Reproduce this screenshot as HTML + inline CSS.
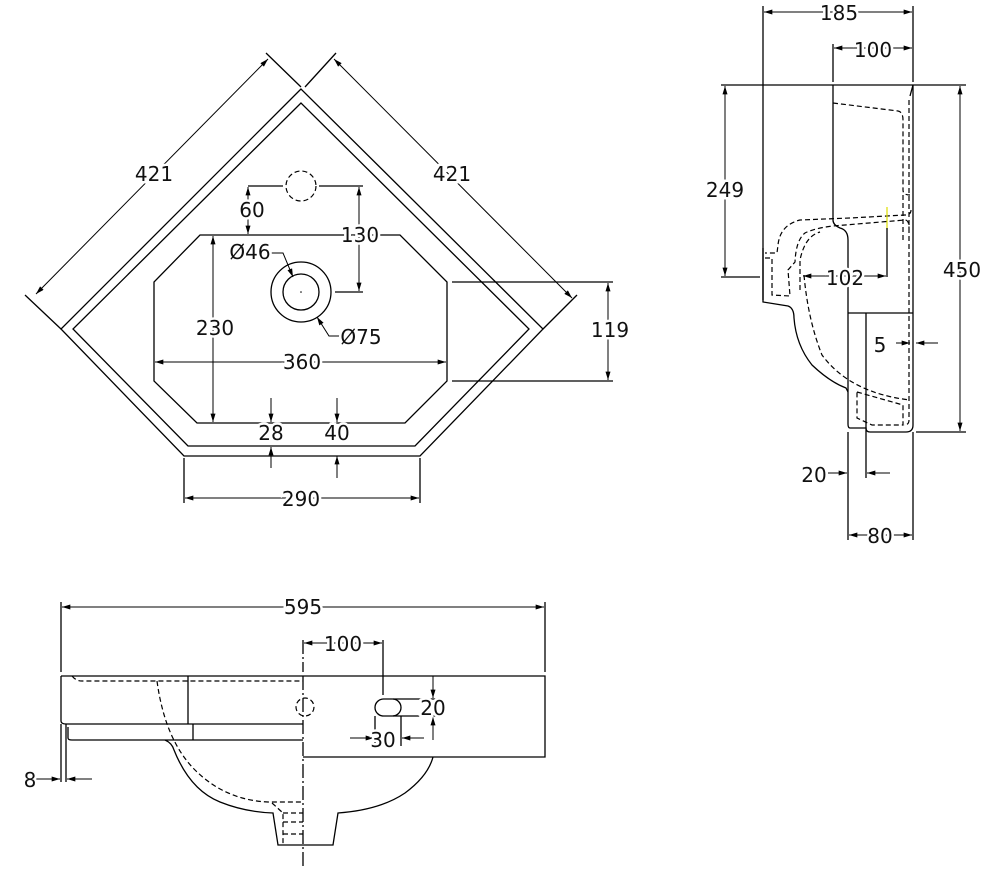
<!DOCTYPE html>
<html><head><meta charset="utf-8"><style>
html,body{margin:0;padding:0;background:#fff}
svg{display:block}
text{font-family:"DejaVu Sans","Liberation Sans",sans-serif;font-size:20px;fill:#111;stroke:#fff;stroke-width:5px;paint-order:stroke;text-anchor:middle;dominant-baseline:central}
.l{fill:none;stroke:#000;stroke-width:1.3}
.d{fill:none;stroke:#000;stroke-width:1.2;stroke-dasharray:5 3}
.dim{fill:none;stroke:#000;stroke-width:1;marker-start:url(#a);marker-end:url(#a)}
.de{fill:none;stroke:#000;stroke-width:1;marker-end:url(#a)}
</style></head><body>
<svg width="1000" height="871" viewBox="0 0 1000 871" xmlns="http://www.w3.org/2000/svg">
<defs><marker id="a" viewBox="0 0 10 6" refX="10" refY="3" markerWidth="12" markerHeight="5" markerUnits="userSpaceOnUse" orient="auto-start-reverse"><path d="M0,0 L10,3 L0,6 z" fill="#000"/></marker></defs>

<!-- TOP VIEW -->
<polygon class="l" points="301,89 61,329 184,456 420,456 543,329"/>
<polygon class="l" points="301,103 73,329 188,446 415,446 529,329"/>
<polygon class="l" points="200,235 400,235 447,282 447,381 405,423 197,423 154,381 154,282"/>
<circle class="d" cx="301" cy="186" r="15"/>
<circle class="l" cx="301" cy="292" r="30"/>
<circle class="l" cx="301" cy="292" r="18"/>
<circle cx="301" cy="292" r="0.8" fill="#000"/>
<line class="l" x1="61" y1="329" x2="25" y2="295"/>
<line class="l" x1="301" y1="87" x2="266" y2="53"/>
<line class="dim" x1="36" y1="294" x2="268" y2="59"/>
<text x="154" y="174">421</text>
<line class="l" x1="305" y1="87" x2="336" y2="53"/>
<line class="l" x1="543" y1="329" x2="577" y2="295"/>
<line class="dim" x1="334" y1="59" x2="572" y2="298"/>
<text x="452" y="174">421</text>
<line class="l" x1="248" y1="186" x2="283" y2="186"/>
<line class="l" x1="319" y1="186" x2="363" y2="186"/>
<line class="dim" x1="248" y1="187" x2="248" y2="234"/>
<text x="252" y="210">60</text>
<line class="dim" x1="359" y1="187" x2="359" y2="291"/>
<line class="l" x1="335" y1="292" x2="363" y2="292"/>
<text x="360" y="235">130</text>
<polyline class="de" points="270,253 283,253 293,277"/>
<text x="250" y="252">Ø46</text>
<polyline class="de" points="340,336 329,336 317,317"/>
<text x="361" y="337">Ø75</text>
<line class="dim" x1="213" y1="236" x2="213" y2="422"/>
<text x="215" y="328">230</text>
<line class="dim" x1="155" y1="362" x2="446" y2="362"/>
<text x="302" y="362">360</text>
<line class="l" x1="452" y1="282" x2="613" y2="282"/>
<line class="l" x1="452" y1="381" x2="613" y2="381"/>
<line class="dim" x1="608" y1="283" x2="608" y2="380"/>
<text x="610" y="330">119</text>
<line class="de" x1="271" y1="398" x2="271" y2="422"/>
<line class="de" x1="271" y1="468" x2="271" y2="447"/>
<text x="271" y="433">28</text>
<line class="de" x1="337" y1="398" x2="337" y2="422"/>
<line class="de" x1="337" y1="478" x2="337" y2="456"/>
<text x="337" y="433">40</text>
<line class="l" x1="184" y1="458" x2="184" y2="503"/>
<line class="l" x1="420" y1="458" x2="420" y2="503"/>
<line class="dim" x1="185" y1="498" x2="419" y2="498"/>
<text x="301" y="499">290</text>

<!-- SIDE VIEW -->
<line class="l" x1="763" y1="6" x2="763" y2="300"/>
<line class="l" x1="913" y1="6" x2="913" y2="82"/>
<line class="dim" x1="764" y1="12" x2="912" y2="12"/>
<text x="839" y="13">185</text>
<line class="l" x1="833" y1="44" x2="833" y2="82"/>
<line class="dim" x1="834" y1="48" x2="912" y2="48"/>
<text x="873" y="50">100</text>
<line class="l" x1="721" y1="85" x2="966" y2="85"/>
<line class="dim" x1="725" y1="86" x2="725" y2="276"/>
<line class="l" x1="721" y1="277" x2="760" y2="277"/>
<text x="725" y="190">249</text>
<line class="dim" x1="960" y1="86" x2="960" y2="431"/>
<line class="l" x1="916" y1="432" x2="966" y2="432"/>
<text x="962" y="270">450</text>
<path class="l" d="M913,85 L913,425 Q913,432 906,432 L870,432 Q866,432 866,428 L850,428 Q848,428 848,424 L848,240 Q848,230 840,228 Q833,225 833,220 L833,85"/>
<path class="l" d="M913,85 L910,96"/>
<line class="l" x1="848" y1="313" x2="913" y2="313"/>
<line class="l" x1="866" y1="313" x2="866" y2="478"/>
<line class="l" x1="848" y1="432" x2="848" y2="540"/>
<line class="l" x1="913" y1="432" x2="913" y2="540"/>
<path class="l" d="M763,248 L763,302 L788,306 Q794,308 794,318 Q796,345 812,365 Q830,382 846,388 L848,392"/>
<path class="d" d="M833,103 L898,111 Q903,112 903,120 L903,190 Q903,195 910,195 M903,195 L903,240"/>
<path class="d" d="M909,100 L909,420 Q909,425 904,425"/>
<path class="d" d="M911,210 Q911,215 905,215 L850,218 L800,220 Q780,225 778,245 L777,253 L765,253 M765,258 L772,258 L772,295 L790,296 L788,270 L795,262 Q796,240 805,233 Q815,228 833,226 L905,220 Q909,220 909,228"/>
<path class="d" d="M800,290 L800,260 Q805,236 820,232"/>
<path class="d" d="M804,275 Q808,320 822,355 Q850,393 910,400"/>
<path class="d" d="M857,392 L903,405 L903,425 L872,425 L857,418 Z"/>
<line x1="887" y1="207" x2="887" y2="230" stroke="#dd0" stroke-width="1.2"/>
<line class="l" x1="887" y1="228" x2="887" y2="277"/>
<line class="dim" x1="803" y1="276" x2="886" y2="276"/>
<text x="845" y="278">102</text>
<line class="de" x1="896" y1="343" x2="910" y2="343"/>
<line class="de" x1="938" y1="343" x2="916" y2="343"/>
<text x="880" y="345">5</text>
<line class="de" x1="828" y1="473" x2="847" y2="473"/>
<line class="de" x1="890" y1="473" x2="867" y2="473"/>
<text x="814" y="475">20</text>
<line class="dim" x1="849" y1="535" x2="912" y2="535"/>
<text x="880" y="536">80</text>

<!-- FRONT VIEW -->
<line class="l" x1="61" y1="602" x2="61" y2="672"/>
<line class="l" x1="545" y1="602" x2="545" y2="672"/>
<line class="dim" x1="62" y1="607" x2="544" y2="607"/>
<text x="303" y="607">595</text>
<line class="l" x1="303" y1="640" x2="303" y2="672" stroke-dasharray="14 3 2 3"/>
<line class="l" x1="303" y1="676" x2="303" y2="866" stroke-dasharray="14 3 2 3"/>
<line class="l" x1="383" y1="640" x2="383" y2="695"/>
<line class="dim" x1="304" y1="643" x2="382" y2="643"/>
<text x="343" y="644">100</text>
<path class="l" d="M61,676 L545,676 L545,757 L303,757"/>
<path class="l" d="M61,676 L61,721 Q61,724 66,724 L303,724"/>
<path class="l" d="M66,724 L66,782 M68,727 L68,738 Q68,740 72,740 L303,740"/>
<line class="l" x1="61" y1="724" x2="61" y2="782"/>
<line class="l" x1="188" y1="676" x2="188" y2="724"/>
<line class="l" x1="193" y1="724" x2="193" y2="740"/>
<path class="d" d="M72,676 Q76,681 82,681 L303,681"/>
<path class="d" d="M157,681 Q165,740 195,770 Q225,800 268,802 L303,802"/>
<path class="l" d="M165,740 Q172,743 174,750 Q190,790 220,802 Q245,812 273,813 L278,845 L333,845 L338,813 Q380,810 405,793 Q428,776 433,757"/>
<path class="d" d="M272,803 L283,813 L283,845 M283,813 L303,813 M283,822 L303,822 M283,834 L303,834"/>
<circle class="d" cx="305" cy="707" r="9"/>
<rect class="l" x="375" y="699" width="26" height="17" rx="8.5"/>
<line class="l" x1="393" y1="699" x2="437" y2="699"/>
<line class="l" x1="393" y1="716" x2="437" y2="716"/>
<line class="de" x1="433" y1="676" x2="433" y2="698"/>
<line class="de" x1="433" y1="740" x2="433" y2="717"/>
<text x="433" y="708">20</text>
<line class="l" x1="375" y1="716" x2="375" y2="746"/>
<line class="l" x1="401" y1="716" x2="401" y2="746"/>
<line class="de" x1="350" y1="738" x2="374" y2="738"/>
<line class="de" x1="424" y1="738" x2="402" y2="738"/>
<text x="383" y="740">30</text>
<line class="de" x1="36" y1="779" x2="60" y2="779"/>
<line class="de" x1="92" y1="779" x2="67" y2="779"/>
<text x="30" y="780">8</text>
</svg>
</body></html>
